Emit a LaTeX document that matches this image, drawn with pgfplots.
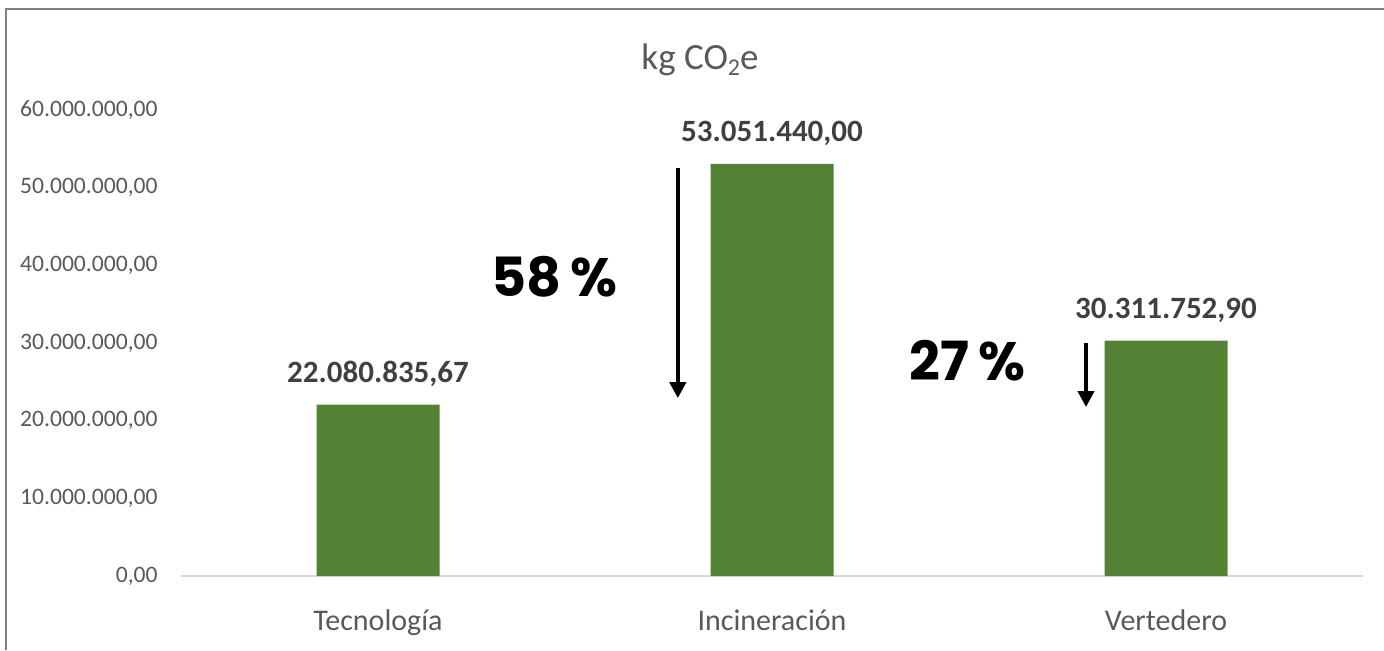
\documentclass[border=0pt]{standalone}
\usepackage{fontspec}
\setmainfont{Carlito}
\newfontfamily\pop{Poppins}
\usepackage{pgfplots}
\pgfplotsset{compat=1.18}
\usetikzlibrary{arrows.meta}
\definecolor{bargreen}{HTML}{548235}
\definecolor{ticktext}{HTML}{595959}
\definecolor{labeltext}{HTML}{404040}
\definecolor{baseline}{HTML}{D9D9D9}
\definecolor{frame}{HTML}{7F7F7F}
\begin{document}
\begin{tikzpicture}
\useasboundingbox (-90.5pt,-37pt) rectangle (601.5pt,288pt);
\draw[frame, line width=1.3pt] (-87.5pt,-37pt) -- (-87.5pt,283.5pt) -- (601.5pt,283.5pt);
\begin{axis}[
  at={(0,0)}, anchor=south west,
  scale only axis,
  width=591pt, height=233pt,
  xmin=-0.5, xmax=2.5,
  ymin=0, ymax=60000000,
  axis lines=left,
  axis line style={-},
  y axis line style={draw=none},
  x axis line style={draw=baseline, line width=1.2pt},
  major tick length=0pt,
  xtick={0,1,2},
  xticklabels={Tecnología,Incineración,Vertedero},
  xticklabel style={font=\fontsize{15pt}{18pt}\selectfont, text=ticktext, anchor=base, yshift=-27pt, inner sep=0pt},
  ytick={0,10000000,20000000,30000000,40000000,50000000,60000000},
  yticklabels={{0,00},{10.000.000,00},{20.000.000,00},{30.000.000,00},{40.000.000,00},{50.000.000,00},{60.000.000,00}},
  yticklabel style={font=\fontsize{11.8pt}{14pt}\selectfont, text=ticktext, inner sep=0pt, xshift=-11.5pt},
  scaled y ticks=false,
  ybar, bar width=61.5pt,
  point meta=explicit symbolic,
  nodes near coords={\pgfplotspointmeta},
  every node near coord/.append style={anchor=base, yshift=11pt, inner sep=0pt, font=\fontsize{15.5pt}{18pt}\selectfont\bfseries, text=labeltext},
  clip=false,
]
\addplot[fill=bargreen, draw=none] coordinates {
  (0,22080835.67) [22.080.835,67]
  (1,53051440.00) [53.051.440,00]
  (2,30311752.90) [30.311.752,90]
};
\draw[line width=2pt, -{Triangle[length=8pt,width=8pt]}] (axis cs:0.761,52500000) -- (axis cs:0.761,22900000);
\draw[line width=2pt, -{Triangle[length=8pt,width=8pt]}] (axis cs:1.797,30000000) -- (axis cs:1.797,21750000);
\node[font=\pop\bfseries\fontsize{27pt}{30pt}\selectfont, inner sep=0pt] at (axis cs:0.449,38500000) {58\,\%};
\node[font=\pop\bfseries\fontsize{27pt}{30pt}\selectfont, inner sep=0pt] at (axis cs:1.497,27700000) {27\,\%};
\end{axis}
\node[text=ticktext, font=\fontsize{18.5pt}{22pt}\selectfont, inner sep=0pt] at (259.5pt,258pt) {kg CO\raisebox{-0.35ex}{\fontsize{12pt}{12pt}\selectfont 2}e};
\end{tikzpicture}
\end{document}
